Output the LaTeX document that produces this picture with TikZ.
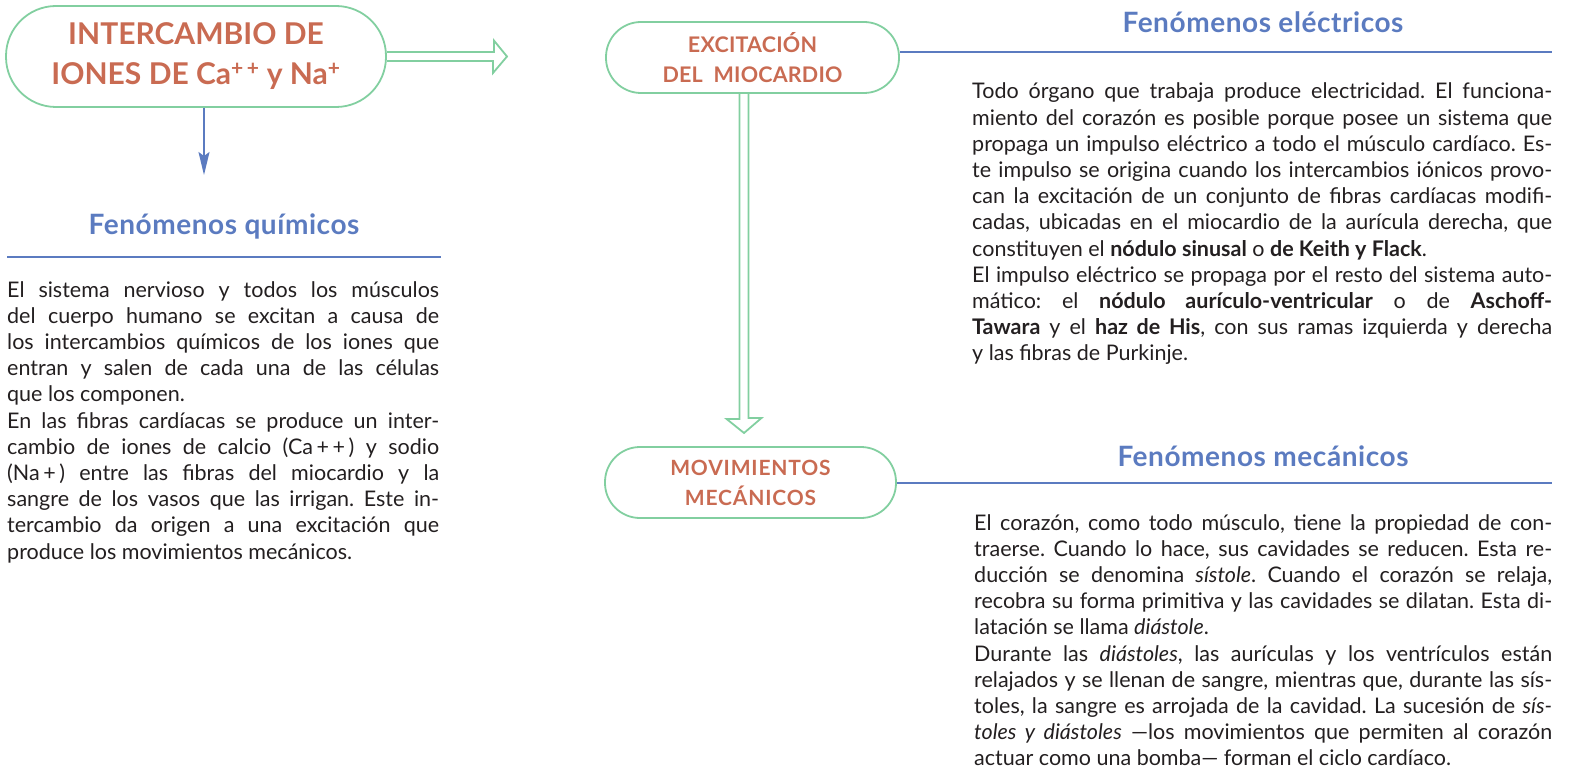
\documentclass[tikz,border=0pt]{standalone}
\usepackage{fontspec}
\setmainfont{Lato}
\usetikzlibrary{arrows.meta, positioning}

\definecolor{boxgreen}{HTML}{82CFA0}
\definecolor{titlered}{HTML}{C96B52}
\definecolor{headblue}{HTML}{5B7BC0}
\definecolor{bodyink}{HTML}{231F20}

\begin{document}
\begin{tikzpicture}[
  x=1pt, y=-1pt,
  stage/.style={rectangle, draw=boxgreen, line width=1.8pt, align=center, inner sep=0pt, text=titlered},
  heading/.style={anchor=base, inner sep=0pt, text=headblue, font=\fontsize{28}{30}\selectfont\bfseries\addfontfeature{LetterSpace=2}},
  body/.style={anchor=base west, align=justify, inner sep=0pt, text=bodyink, font=\fontsize{21.5}{26.2}\selectfont\frenchspacing\sloppy},
  rule/.style={draw=headblue, line width=2.6pt},
  hollow/.style={draw=boxgreen, line width=1.8pt, line join=miter},
  feed/.style={draw=headblue, line width=1.6pt, -{Stealth[length=23pt, width=11pt, inset=4pt]}}
]
\useasboundingbox (0,0) rectangle (1572,773);

% stages
\node[stage, minimum width=380pt, minimum height=101pt, rounded corners=50pt,
  font=\fontsize{30}{40}\selectfont\bfseries] (ions) at (196,56.5)
  {INTERCAMBIO DE\\IONES DE Ca\textsuperscript{+\,+} y Na\textsuperscript{+}};
\node[stage, minimum width=293pt, minimum height=71pt, rounded corners=35pt,
  font=\fontsize{21.5}{30}\selectfont\bfseries\addfontfeature{LetterSpace=1}] (excit) at (752.5,57.5)
  {EXCITACIÓN\\DEL\enspace MIOCARDIO};
\node[stage, minimum width=291pt, minimum height=71pt, rounded corners=35pt,
  font=\fontsize{21}{30}\selectfont\bfseries\addfontfeature{LetterSpace=4}] (movim) at (750.5,482.5)
  {MOVIMIENTOS\\MECÁNICOS};

% headings
\node[heading] (quimhead) at (224,234) {Fenómenos químicos};
\node[heading] (elechead) at (1263,33) {Fenómenos eléctricos};
\node[heading] (mecahead) at (1263,466) {Fenómenos mecánicos};

\coordinate (elecrule) at (1552,52);
\coordinate (mecarule) at (1552,483);
\draw[rule] (7,257) -- (441,257);
\draw[rule] (excit.east |- elecrule) -- (elecrule);
\draw[rule] (movim.east |- mecarule) -- (mecarule);

% arrows
\coordinate (quimtip) at (204,175);
\coordinate (excittip) at (507,56.5);
\coordinate (movimtip) at (744,433);
\draw[feed] ([xshift=8pt]ions.south) -- (quimtip);
\draw[hollow] ([yshift=4.5pt]ions.east) -- ++(107,0) -- ++(0,-11.5) -- (excittip)
  -- ++(-14,16.5) -- ++(0,-12) -- ([yshift=-4.5pt]ions.east);
\draw[hollow] ([xshift=-13pt]excit.south) -- ++(0,325) -- ++(-13,0) -- (movimtip)
  -- ++(17.5,-15) -- ++(-13,0) -- ([xshift=-4pt]excit.south);

% texts
\node[body, text width=432pt] (quimtext) at (7,297)
  {El sistema nervioso y todos los músculos\linebreak
   del cuerpo humano se excitan a causa de\linebreak
   los intercambios químicos de los iones que\linebreak
   entran y salen de cada una de las células\linebreak
   que los componen.\\
   En las fibras cardíacas se produce un inter-\linebreak
   cambio de iones de calcio (Ca\,+\,+\,) y sodio\linebreak
   (Na\,+\,) entre las fibras del miocardio y la\linebreak
   sangre de los vasos que las irrigan. Este in-\linebreak
   tercambio da origen a una excitación que\linebreak
   produce los movimientos mecánicos.};
\node[body, text width=580pt] (electext) at (972,99)
  {Todo órgano que trabaja produce electricidad. El funciona-\linebreak
   miento del corazón es posible porque posee un sistema que\linebreak
   propaga un impulso eléctrico a todo el músculo cardíaco. Es-\linebreak
   te impulso se origina cuando los intercambios iónicos provo-\linebreak
   can la excitación de un conjunto de fibras cardíacas modifi-\linebreak
   cadas, ubicadas en el miocardio de la aurícula derecha, que\linebreak
   constituyen el \textbf{nódulo sinusal} o \textbf{de Keith y Flack}.\\
   El impulso eléctrico se propaga por el resto del sistema auto-\linebreak
   mático: el \textbf{nódulo aurículo-ventricular} o de \textbf{Aschoff-}\linebreak
   \textbf{Tawara} y el \textbf{haz de His}, con sus ramas izquierda y derecha\linebreak
   y las fibras de Purkinje.};
\node[body, text width=578pt] (mecatext) at (974,530)
  {El corazón, como todo músculo, tiene la propiedad de con-\linebreak
   traerse. Cuando lo hace, sus cavidades se reducen. Esta re-\linebreak
   ducción se denomina \textit{sístole}. Cuando el corazón se relaja,\linebreak
   recobra su forma primitiva y las cavidades se dilatan. Esta di-\linebreak
   latación se llama \textit{diástole}.\\
   Durante las \textit{diástoles}, las aurículas y los ventrículos están\linebreak
   relajados y se llenan de sangre, mientras que, durante las sís-\linebreak
   toles, la sangre es arrojada de la cavidad. La sucesión de \textit{sís-}\linebreak
   \textit{toles y diástoles} —los movimientos que permiten al corazón\linebreak
   actuar como una bomba— forman el ciclo cardíaco.};
\end{tikzpicture}
\end{document}
